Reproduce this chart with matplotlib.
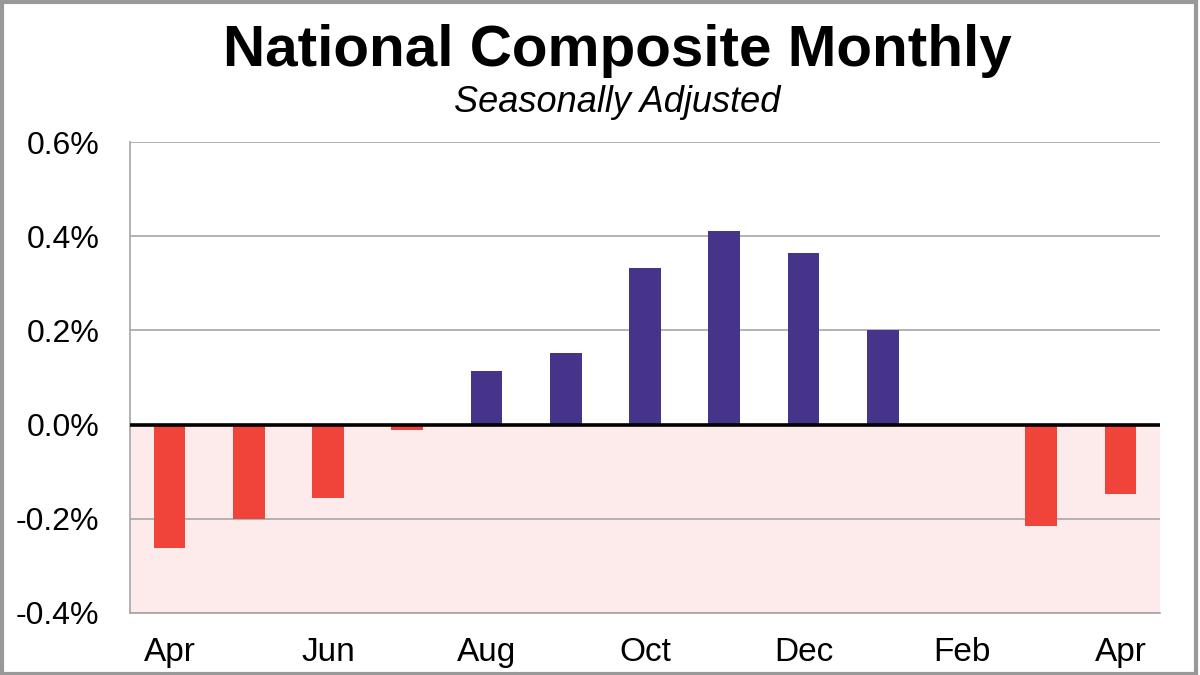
import matplotlib
matplotlib.use("Agg")
import matplotlib.pyplot as plt
from matplotlib.patches import Rectangle
from matplotlib.ticker import FuncFormatter

months = ["Apr", "May", "Jun", "Jul", "Aug", "Sep", "Oct", "Nov", "Dec", "Jan", "Feb", "Mar", "Apr"]
values = [-0.262, -0.200, -0.155, -0.011, 0.113, 0.151, 0.332, 0.411, 0.364, 0.200, 0.0, -0.215, -0.147]
yticks = [-0.4, -0.2, 0.0, 0.2, 0.4, 0.6]

plt.rcParams['font.family'] = ['Liberation Sans', 'DejaVu Sans']

fig = plt.figure(figsize=(12, 6.75), dpi=100)
ax = fig.add_axes([130/1200, 1 - 613/675, 1030/1200, (613-142)/675])

x = list(range(len(months)))
colors = ["#46338A" if v > 0 else "#F0433A" for v in values]
ax.axhspan(-0.4, 0, color="#FDEAEA", zorder=0)
ax.bar(x, values, width=0.4, color=colors, zorder=3)

ax.set_xlim(-0.5, len(months) - 0.5)
ax.set_ylim(-0.4, 0.6)
ax.set_yticks(yticks)
ax.yaxis.set_major_formatter(FuncFormatter(lambda v, p: f"{v:.1f}%"))
ax.grid(axis="y", color="#A6A6A6", linewidth=1.2, zorder=1)
ax.axhline(0, color="black", linewidth=2.6, zorder=4)

ax.set_xticks(x[::2])
ax.set_xticklabels(months[::2])
ax.tick_params(axis="both", length=0, colors="black")
ax.tick_params(axis="y", pad=22, labelsize=23)
ax.tick_params(axis="x", pad=17, labelsize=24)

for s in ["top", "right"]:
    ax.spines[s].set_visible(False)
for s in ["left", "bottom"]:
    ax.spines[s].set_color("#A6A6A6")
    ax.spines[s].set_linewidth(1.2)

fig.text(617/1200, 1 - 51/675, "National Composite Monthly", ha="center", va="center",
         fontsize=42, fontweight="bold")
fig.text(617/1200, 1 - 103/675, "Seasonally Adjusted", ha="center", va="center",
         fontsize=26, fontstyle="italic")

fig.patches.append(Rectangle((0.0015, 0.002), 0.9955, 0.995, transform=fig.transFigure,
                             fill=False, edgecolor="#999999", linewidth=3))

fig.savefig("out.png", dpi=100)
